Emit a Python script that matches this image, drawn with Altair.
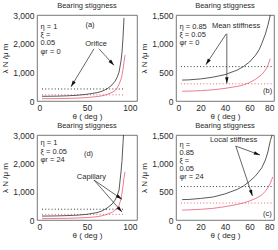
import math
import altair as alt
import pandas as pd

FONT = "Liberation Sans Narrow, Liberation Sans, Arial"
TXT = "#2a2a2a"
BLACK = "#404040"
RED = "#e8506e"

# ---------------- data ----------------
# panel (a)  eta=1, xi=0.05, phi_r=0, orifice
A_THETA_K = [5, 10, 20, 30, 40, 50, 60, 65, 70, 75, 78, 80, 82, 84, 85, 86, 87]
A_BLACK = [165, 165, 170, 180, 200, 235, 290, 340, 420, 560, 690, 820, 1000, 1400, 1700, 2200, 2900]
A_THETA_R = [5, 10, 20, 30, 40, 50, 60, 65, 70, 75, 78, 80, 82, 84, 85, 86, 87, 88]
A_RED = [80, 80, 85, 90, 100, 120, 155, 180, 225, 300, 360, 450, 580, 760, 900, 1100, 1350, 1600]
A_MEAN = [420, 215]

# panel (b)  eta=0.85, xi=0.05, phi_r=0, mean stiffness
B_THETA_K = [5, 10, 20, 30, 40, 50, 55, 60, 65, 68, 70, 73, 75, 77]
B_BLACK = [365, 368, 385, 415, 460, 540, 600, 680, 800, 900, 1000, 1170, 1320, 1500]
B_THETA_R = [5, 10, 20, 30, 40, 50, 55, 60, 65, 70, 73, 75, 77]
B_RED = [170, 172, 180, 195, 220, 255, 280, 320, 380, 460, 540, 620, 740]
B_MEAN = [600, 300]

# panel (d)  eta=1, xi=0.05, phi_r=24, capillary
D_THETA_K = [5, 10, 20, 30, 40, 50, 60, 65, 70, 75, 78, 80, 82, 84, 85, 86, 86.5]
D_BLACK = [140, 140, 145, 155, 170, 200, 260, 320, 420, 560, 700, 850, 1050, 1700, 2100, 2700, 3000]
D_THETA_R = [5, 10, 20, 30, 40, 50, 60, 65, 70, 75, 78, 80, 82, 84, 85, 86, 87, 88]
D_RED = [50, 50, 55, 60, 70, 85, 115, 150, 200, 270, 340, 410, 520, 740, 950, 1200, 1500, 1700]
D_MEAN = [380, 200]

# panel (c)  eta=0.85, xi=0.05, phi_r=24, local stiffness
C_THETA_K = [5, 10, 20, 30, 40, 50, 55, 60, 65, 70, 73, 75, 77, 78.5]
C_BLACK = [360, 362, 380, 405, 460, 540, 600, 680, 780, 920, 1060, 1200, 1400, 1500]
C_THETA_R = [5, 10, 20, 30, 40, 50, 55, 60, 65, 70, 73, 75, 77, 79]
C_RED = [175, 178, 188, 205, 235, 275, 300, 335, 380, 440, 510, 570, 650, 760]
C_MEAN = [590, 300]

# annotation texts (anchor in data units)
A_PARAMS = ["η = 1", "ξ =", "0.05", "φr  = 0"]
A_PARAM_Y = [2570, 2290, 2020, 1710]
B_PARAMS = ["η = 0.85", "ξ = 0.05", "φr  = 0"]
B_PARAM_Y = [1288, 1149, 1010]
D_PARAMS = ["η = 1", "ξ = 0.05", "φr = 24"]
D_PARAM_Y = [2710, 2410, 2120]
C_PARAMS = ["η =", "0.85", "ξ =", "0.05", "φr = 24"]
C_PARAM_Y = [1323, 1176, 1041, 894, 753]

A_LABELS = [("(a)", 53, 2650), ("Orifice", 59, 1990)]
B_LABELS = [("(b)", 74.8, 173), ("Mean stiffness", 49, 1305)]
D_LABELS = [("(d)", 51.5, 2320), ("Capillary", 54.4, 1525)]
C_LABELS = [("(c)", 74.6, 100), ("Local stiffness", 47, 1411)]

A_ARROWS = [(57, 1820, 34, 495), (62, 1820, 77, 1245)]
B_ARROWS = [(41, 1172, 24.4, 634), (41.5, 1172, 41.5, 305)]
D_ARROWS = [(57, 1410, 85, 730), (57, 1410, 85, 283)]
C_ARROWS = [(48.8, 1305, 68.6, 1146), (48.8, 1305, 62.4, 423)]

ARROW_PATH = "M0,0L0.45,1.6L-0.45,1.6Z"


def panel(tk, kv, tr, rv, mean, mean_x, params, param_y, labels, arrows,
          xmax, ymax, xticks, yticks, W, H):
    xs = alt.Scale(domain=[0, xmax], nice=False, zero=False)
    ys = alt.Scale(domain=[0, ymax], nice=False)
    xax = alt.Axis(values=xticks, ticks=False, domain=False, grid=False,
                   labelPadding=2, titlePadding=1)
    yax = alt.Axis(values=yticks, ticks=False, domain=False, grid=False,
                   labelPadding=3, titlePadding=3)
    XT = "θ   ( deg )"
    YT = "λ   N /μ m"

    def X(f):
        return alt.X(f, type="quantitative", scale=xs, axis=xax, title=XT)

    def Y(f):
        return alt.Y(f, type="quantitative", scale=ys, axis=yax, title=YT)

    curves = pd.DataFrame({
        "theta": list(tk) + list(tr),
        "lam": list(kv) + list(rv),
        "s": ["k"] * len(tk) + ["r"] * len(tr),
    })
    line = alt.Chart(curves).mark_line(strokeWidth=0.75, clip=True).encode(
        x=X("theta"), y=Y("lam"),
        color=alt.Color("s:N", scale=alt.Scale(domain=["k", "r"], range=[BLACK, RED]), legend=None),
        detail="s:N",
    )
    mdf = pd.DataFrame({"x1": [mean_x[0]] * 2, "x2": [mean_x[1]] * 2, "y": mean, "s": ["k", "r"]})
    means = alt.Chart(mdf).mark_rule(strokeWidth=0.9, strokeDash=[1, 2.2]).encode(
        x=X("x1"), x2="x2", y=Y("y"),
        color=alt.Color("s:N", scale=alt.Scale(domain=["k", "r"], range=["#222222", RED]), legend=None),
    )
    pdf = pd.DataFrame({"t": params, "x": [3.5 * xmax / 100] * len(params), "y": param_y})
    ptxt = alt.Chart(pdf).mark_text(align="left", baseline="middle", fontSize=7.5,
                                    font=FONT, color=TXT).encode(x=X("x"), y=Y("y"), text="t:N")
    ldf = pd.DataFrame({"t": [l[0] for l in labels], "x": [l[1] for l in labels],
                        "y": [l[2] for l in labels]})
    ltxt = alt.Chart(ldf).mark_text(align="center", baseline="middle", fontSize=7.5,
                                    font=FONT, color=TXT).encode(x=X("x"), y=Y("y"), text="t:N")
    ang = []
    for (x1, y1, x2, y2) in arrows:
        sx = (x2 - x1) * W / xmax
        sy = -(y2 - y1) * H / ymax
        ang.append((math.degrees(math.atan2(sx, -sy)) + 360) % 360)
    adf = pd.DataFrame({"x1": [a[0] for a in arrows], "y1": [a[1] for a in arrows],
                        "x2": [a[2] for a in arrows], "y2": [a[3] for a in arrows], "ang": ang})
    shafts = alt.Chart(adf).mark_rule(strokeWidth=0.75, color="#333333").encode(
        x=X("x1"), y=Y("y1"), x2="x2", y2="y2")
    heads = alt.Chart(adf).mark_point(shape=ARROW_PATH, filled=True, size=60, color="#111111",
                                      opacity=1).encode(
        x=X("x2"), y=Y("y2"), angle=alt.Angle("ang:Q", scale=None))
    return alt.layer(means, line, shafts, heads, ptxt, ltxt).properties(
        width=W, height=H,
        title=alt.TitleParams("Bearing stiggness", fontSize=7.5, fontWeight="normal",
                              font=FONT, color=TXT, offset=2),
    )


pa = panel(A_THETA_K, A_BLACK, A_THETA_R, A_RED, A_MEAN, (5, 88), A_PARAMS, A_PARAM_Y,
           A_LABELS, A_ARROWS, 100, 3000, [0, 50, 100], [0, 1000, 2000, 3000], 100, 86)
pb = panel(B_THETA_K, B_BLACK, B_THETA_R, B_RED, B_MEAN, (4, 78), B_PARAMS, B_PARAM_Y,
           B_LABELS, B_ARROWS, 80, 1500, [0, 20, 40, 60, 80], [0, 500, 1000, 1500], 98, 86)
pd_ = panel(D_THETA_K, D_BLACK, D_THETA_R, D_RED, D_MEAN, (5, 88), D_PARAMS, D_PARAM_Y,
            D_LABELS, D_ARROWS, 100, 3000, [0, 50, 100], [0, 1000, 2000, 3000], 100, 85)
pc = panel(C_THETA_K, C_BLACK, C_THETA_R, C_RED, C_MEAN, (4, 78), C_PARAMS, C_PARAM_Y,
           C_LABELS, C_ARROWS, 80, 1500, [0, 20, 40, 60, 80], [0, 500, 1000, 1500], 98, 85)

chart = alt.vconcat(
    alt.hconcat(pa, pb, spacing=2),
    alt.hconcat(pd_, pc, spacing=2),
    spacing=0,
).properties(
    padding={"left": 1, "top": 1, "right": 0, "bottom": 0},
    background="white",
).configure_view(stroke="#555555", strokeWidth=0.8).configure_axis(
    labelFont=FONT, labelFontSize=8.5, labelColor=TXT,
    titleFont=FONT, titleFontSize=8, titleColor=TXT, titleFontWeight="normal",
).configure_concat(spacing=2)

chart.save("out.html", embed_options={"renderer": "svg", "actions": False})
